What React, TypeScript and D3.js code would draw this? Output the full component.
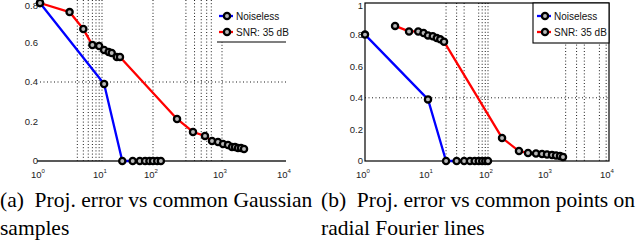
import * as d3 from "d3";

// x positions are decades 10^0 .. 10^4 (scan is slightly non-uniform per decade)
const decades = [1, 10, 100, 1000, 10000];
const xTickExps = [0, 1, 2, 3, 4];

const leftYTicks = [0, 0.2, 0.4, 0.6, 0.8];
const rightYTicks = [0, 0.2, 0.4, 0.6, 0.8, 1];

const leftNoiselessX = [1, 11, 25, 40, 55, 70, 85, 100, 115, 130];
const leftNoiselessY = [0.8, 0.39, 0, 0, 0, 0, 0, 0, 0, 0];
const leftSnrX = [1, 3, 5, 7, 9, 11, 13.5, 15.5, 19.5, 22.5, 223, 380, 567, 716, 875, 1037, 1241, 1433, 1597, 1778, 1982, 2208];
const leftSnrY = [0.8, 0.754, 0.668, 0.587, 0.582, 0.562, 0.552, 0.547, 0.527, 0.527, 0.213, 0.147, 0.127, 0.101, 0.096, 0.086, 0.081, 0.071, 0.071, 0.066, 0.066, 0.061];

const rightNoiselessX = [1, 10, 20, 30, 40, 50, 60, 70, 80, 90, 100];
const rightNoiselessY = [0.8, 0.39, 0, 0, 0, 0, 0, 0, 0, 0, 0];
const rightSnrX = [3, 5, 7, 8.5, 10, 12, 14, 16, 18.5, 173, 335, 477, 651, 823, 1000, 1204, 1398, 1622, 1811];
const rightSnrY = [0.855, 0.82, 0.82, 0.81, 0.795, 0.79, 0.778, 0.77, 0.755, 0.146, 0.063, 0.051, 0.047, 0.044, 0.041, 0.038, 0.035, 0.032, 0.025];

// dotted grid lines that survive in the scan
const leftGridX = [4, 5, 6, 7, 8, 9, 10, 100, 300, 400, 500, 600, 700, 1000];
const rightGridX = [20, 30, 40, 70, 80, 90, 100, 2000, 3000, 4000, 7000, 9000];
const gridY = [0.4];

const legendLabels = ["Noiseless", "SNR: 35 dB"];
const captionA = ["(a)  Proj. error vs common Gaussian", "samples"];
const captionB = ["(b)  Proj. error vs common points on", "radial Fourier lines"];

const BLUE = "#0000ff";
const RED = "#ff0000";
const sans = "Liberation Sans, Arial, sans-serif";
const serif = "Liberation Serif, Times New Roman, serif";

type PanelProps = {
  xRange: number[];
  yMax: number;
  yTicks: number[];
  nx: number[];
  ny: number[];
  sx: number[];
  sy: number[];
  gridX: number[];
  boxed: boolean;
  legendX: number;
  legendW: number;
};

function Marker({ x, y }: { x: number; y: number }) {
  return <circle cx={x} cy={y} r={3.1} fill="#b8b8b8" stroke="#000" strokeWidth={2.3} />;
}

function Panel(p: PanelProps) {
  const top = 3;
  const bottom = 161;
  const x = d3.scaleLog().domain(decades).range(p.xRange);
  const y = d3.scaleLinear().domain([0, p.yMax]).range([bottom, top]);
  const x0 = p.xRange[0];
  const x1 = p.xRange[p.xRange.length - 1];

  const line = d3
    .line<[number, number]>()
    .x((d) => x(d[0]))
    .y((d) => y(d[1]));
  const nPts = p.nx.map((v, i) => [v, p.ny[i]] as [number, number]);
  const sPts = p.sx.map((v, i) => [v, p.sy[i]] as [number, number]);

  return (
    <g>
      {/* grid */}
      {p.gridX.map((g) => (
        <line key={"gx" + g} x1={x(g)} x2={x(g)} y1={p.boxed ? top : 0} y2={bottom}
          stroke="#000" strokeWidth={0.9} strokeDasharray="1,2.2" />
      ))}
      {gridY.map((g) => (
        <line key={"gy" + g} x1={x0} x2={x1} y1={y(g)} y2={y(g)}
          stroke="#000" strokeWidth={0.9} strokeDasharray="1,2.5" />
      ))}

      {/* axes */}
      {p.boxed ? (
        <rect x={x0} y={top} width={x1 - x0} height={bottom - top} fill="none" stroke="#000" strokeWidth={1.2} />
      ) : (
        <line x1={x0 - 3} x2={x1} y1={bottom} y2={bottom} stroke="#222" strokeWidth={1.3} />
      )}

      {p.yTicks.map((t) => (
        <text key={"yt" + t} x={x0 - 2} y={Math.max(y(t), 6)} dy="0.35em" textAnchor="end"
          fontFamily={sans} fontSize={9.5} fill="#222">{t}</text>
      ))}
      {xTickExps.map((e) => (
        <text key={"xt" + e} x={x(Math.pow(10, e)) - 2} y={178} textAnchor="middle"
          fontFamily={sans} fontSize={9.5} fill="#222">
          10<tspan dy={-5} fontSize={6}>{e}</tspan>
        </text>
      ))}

      {/* series */}
      <path d={line(nPts) ?? ""} fill="none" stroke={BLUE} strokeWidth={2.3} strokeLinejoin="round" />
      <path d={line(sPts) ?? ""} fill="none" stroke={RED} strokeWidth={2.3} strokeLinejoin="round" />
      {nPts.map((d, i) => <Marker key={"n" + i} x={x(d[0])} y={y(d[1])} />)}
      {sPts.map((d, i) => <Marker key={"s" + i} x={x(d[0])} y={y(d[1])} />)}

      {/* legend */}
      <g>
        <rect x={p.legendX} y={p.boxed ? top : 0} width={p.legendW} height={p.boxed ? 40 : 42}
          fill="#fff" stroke={p.boxed ? "#000" : "none"} strokeWidth={1.1} />
        {!p.boxed && (
          <line x1={p.legendX} x2={p.legendX + p.legendW} y1={42} y2={42} stroke="#000" strokeWidth={1.2} />
        )}
        {legendLabels.map((lab, i) => {
          const ly = 16 + i * 16;
          const lx = p.legendX + (p.boxed ? 4 : 2);
          return (
            <g key={lab}>
              <line x1={lx} x2={lx + 14} y1={ly} y2={ly} stroke={i === 0 ? BLUE : RED} strokeWidth={2.3} />
              <Marker x={lx + 8} y={ly} />
              <text x={lx + 17} y={ly} dy="0.36em" fontFamily={sans} fontSize={10} fill="#111">{lab}</text>
            </g>
          );
        })}
      </g>
    </g>
  );
}

export default function App() {
  return (
    <svg width={640} height={246} viewBox="0 0 640 246"
      style={{ position: "absolute", left: 0, top: 0, background: "#fff" }}>
      <rect width={640} height={246} fill="#fff" />
      <Panel xRange={[40, 102, 153, 222, 286]} yMax={0.8} yTicks={leftYTicks}
        nx={leftNoiselessX} ny={leftNoiselessY} sx={leftSnrX} sy={leftSnrY}
        gridX={leftGridX} boxed={false} legendX={217} legendW={69} />
      <Panel xRange={[365, 428, 488, 547, 609]} yMax={1} yTicks={rightYTicks}
        nx={rightNoiselessX} ny={rightNoiselessY} sx={rightSnrX} sy={rightSnrY}
        gridX={rightGridX} boxed={true} legendX={533} legendW={76} />

      {captionA.map((t, i) => (
        <text key={"a" + i} x={0} y={207 + i * 28} fontFamily={serif} fontSize={21.5} fill="#000"
          xmlSpace="preserve" style={{ whiteSpace: "pre" }}>{t}</text>
      ))}
      {captionB.map((t, i) => (
        <text key={"b" + i} x={321} y={207 + i * 28} fontFamily={serif} fontSize={21.5} fill="#000"
          xmlSpace="preserve" style={{ whiteSpace: "pre" }}>{t}</text>
      ))}
    </svg>
  );
}
